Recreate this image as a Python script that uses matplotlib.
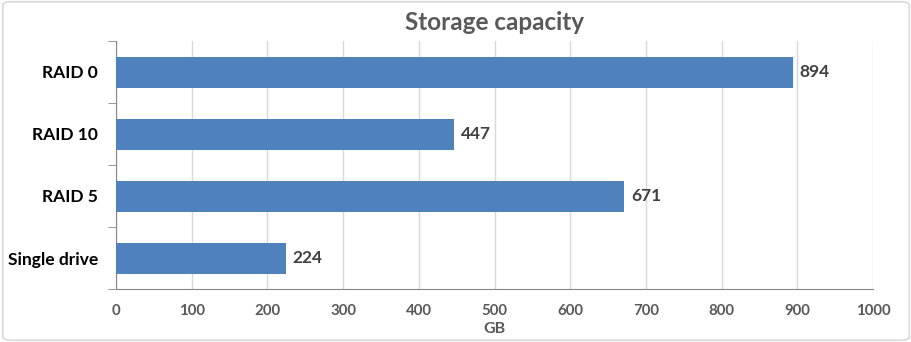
import matplotlib.pyplot as plt
from matplotlib.patches import FancyBboxPatch

categories = ['RAID 0', 'RAID 10', 'RAID 5', 'Single drive']
capacity_gb = [894, 447, 671, 224]
x_ticks = [0, 100, 200, 300, 400, 500, 600, 700, 800, 900, 1000]

plt.rcParams['font.family'] = ['Lato', 'DejaVu Sans']

fig = plt.figure(figsize=(9.12, 3.42), dpi=100)
ax = fig.add_axes([116 / 912, 1 - 289 / 342, (873 - 116) / 912, (289 - 41) / 342])

# rounded grey frame round the whole chart
fig.patches.append(FancyBboxPatch((0.003, 0.005), 0.994, 0.99, boxstyle='round,pad=0,rounding_size=0.01',
                                  transform=fig.transFigure, fill=False, edgecolor='#d9d9d9', linewidth=1.2))

ypos = list(range(len(categories)))
bars = ax.barh(ypos, capacity_gb, height=0.5, color='#4f81bd', zorder=3)
ax.set_ylim(len(categories) - 0.5, -0.5)
ax.set_xlim(0, 1000)

for y, v in zip(ypos, capacity_gb):
    ax.text(v + 9, y, str(v), va='center', ha='left', fontsize=12.5, fontweight='bold', color='#404040')

ax.set_xticks(x_ticks)
ax.set_xticklabels([str(t) for t in x_ticks], fontsize=10.8, fontweight='bold', color='#595959')
ax.tick_params(axis='x', length=0, pad=11)
ax.xaxis.grid(True, color='#d9d9d9', linewidth=1, zorder=0)

ax.set_yticks(ypos)
ax.set_yticklabels(categories, fontsize=12.5, fontweight='bold', color='black')
ax.set_yticks([-0.5, 0.5, 1.5, 2.5, 3.5], minor=True)
ax.tick_params(axis='y', which='major', length=0, pad=13)
ax.tick_params(axis='y', which='minor', length=6, color='#868686')

for side in ['top', 'right']:
    ax.spines[side].set_visible(False)
ax.spines['left'].set_color('#868686')
ax.spines['bottom'].set_color('#868686')

ax.set_xlabel('GB', fontsize=11.5, fontweight='bold', color='#595959', labelpad=3)
ax.set_title('Storage capacity', fontsize=17.5, fontweight='bold', color='#595959', pad=8)

fig.savefig('out.png', dpi=100)
